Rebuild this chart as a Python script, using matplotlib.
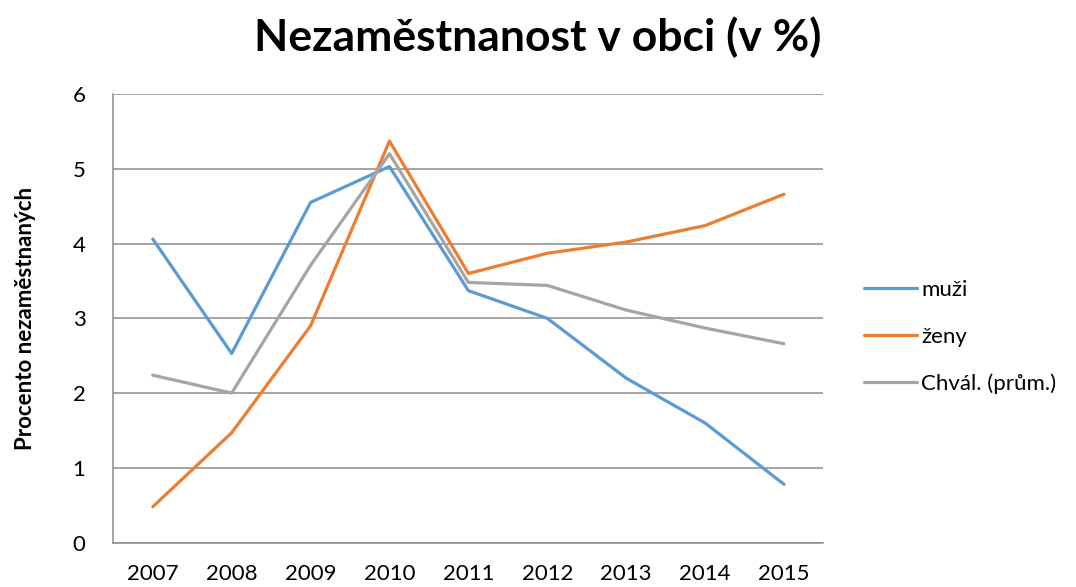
import numpy as np
import matplotlib.pyplot as plt

# data
years = ["2007", "2008", "2009", "2010", "2011", "2012", "2013", "2014", "2015"]
muzi = [4.06, 2.53, 4.55, 5.03, 3.37, 3.00, 2.20, 1.60, 0.78]
zeny = [0.48, 1.47, 2.90, 5.37, 3.60, 3.87, 4.02, 4.24, 4.66]
chval = [2.24, 2.00, 3.71, 5.20, 3.48, 3.44, 3.11, 2.87, 2.66]
labels = ["muži", "ženy", "Chvál. (prům.)"]
colors = ["#5B9BD5", "#ED7D31", "#A5A5A5"]

plt.rcParams["font.family"] = ["Lato", "DejaVu Sans"]

fig = plt.figure(figsize=(10.76, 5.87), dpi=100)
ax = fig.add_axes([0.1053, 0.0755, 0.660, 0.7644])

x = np.arange(len(years))
for series, lab, col in zip([muzi, zeny, chval], labels, colors):
    ax.plot(x, series, color=col, lw=2.3, label=lab, solid_capstyle="round")

ax.set_xlim(-0.5, len(years) - 0.5)
ax.set_ylim(0, 6)
ax.set_yticks(range(0, 7))
ax.set_xticks(x)
ax.set_xticklabels(years)
ax.yaxis.grid(True, color="#8C8C8C", lw=1.1)
ax.set_axisbelow(True)
for side in ["top", "right"]:
    ax.spines[side].set_visible(False)
ax.spines["left"].set_color("#8C8C8C")
ax.spines["bottom"].set_color("#8C8C8C")
ax.spines["left"].set_linewidth(1.1)
ax.spines["bottom"].set_linewidth(1.1)
ax.tick_params(axis="both", length=0, labelsize=16, colors="black")
ax.tick_params(axis="x", pad=15)
ax.tick_params(axis="y", pad=20)

ax.set_ylabel("Procento nezaměstnaných", fontsize=16, fontweight="bold", labelpad=26)
fig.suptitle("Nezaměstnanost v obci (v %)", fontsize=32, fontweight="bold", x=0.5, y=0.972)

ax.legend(loc="center left", bbox_to_anchor=(1.0566, 0.458), frameon=False, fontsize=16,
          borderaxespad=0, borderpad=0,
          handlelength=2.4, handletextpad=0.2, labelspacing=1.2)

fig.savefig("out.png", dpi=100)
